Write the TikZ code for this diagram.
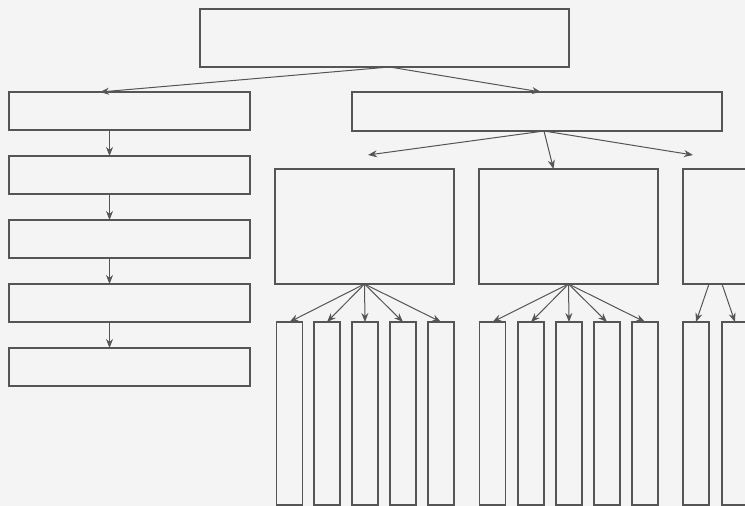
\documentclass[tikz,border=0pt]{standalone}
\usetikzlibrary{arrows.meta,calc}
\definecolor{paper}{HTML}{F4F4F4}
\definecolor{ink}{HTML}{555555}
\tikzset{
  box/.style={draw=ink,line width=1.1pt,rectangle,inner sep=0pt,outer sep=0pt},
  arr/.style={draw=ink,line width=1pt,-{Stealth[length=9pt,width=7pt]}},
}
\begin{document}
\begin{tikzpicture}[x=1pt,y=-1pt]
  \fill[paper] (0,0) rectangle (745,506);
  \clip (0,0) rectangle (745,506);
  % oberer Kasten
  \node[box,minimum width=369,minimum height=58] (top) at (384.5,38) {};
  % linke Spalte
  \foreach \n/\y in {1/111,2/175,3/239,4/303,5/367}
    \node[box,minimum width=241,minimum height=38] (l\n) at (129.5,\y) {};
  \foreach \a/\b in {1/2,2/3,3/4,4/5}
    \draw[arr] ($(l\a.south)+(-20,0)$) -- ($(l\b.north)+(-20,0)$);
  % rechter Zweig
  \node[box,minimum width=370,minimum height=39] (r) at (537,111.5) {};
  \draw[arr] ($(top.south)+(5,0)$) -- ($(l1.north)+(-29.5,0)$);
  \draw[arr] ($(top.south)+(5,0)$) -- ($(r.north)+(4,0)$);
  % drei grosse Kaesten
  \foreach \n/\x in {a/364.5,b/568.5,c/772.5}
    \node[box,minimum width=179,minimum height=115] (\n) at (\x,226.5) {};
  \coordinate (ta) at ($(a.north)+(3.5,-14)$);
  \coordinate (tc) at ($(c.north)+(-79.5,-14)$);
  \draw[arr] ($(r.south)+(7,0)$) -- (ta);
  \draw[arr] ($(r.south)+(7,0)$) -- ($(b.north)+(-15,0)$);
  \draw[arr] ($(r.south)+(7,0)$) -- (tc);
  % schmale Kaesten
  \foreach \x [count=\i] in {289.5,327,365,403,441}
    \node[box,minimum width=26,minimum height=183] (a\i) at (\x,413.5) {};
  \foreach \x [count=\i] in {492.5,531,569,607,645}
    \node[box,minimum width=26,minimum height=183] (b\i) at (\x,413.5) {};
  \foreach \x [count=\i] in {696,735}
    \node[box,minimum width=26,minimum height=183] (c\i) at (\x,413.5) {};
  \foreach \i in {1,...,5}
  {
    \draw[arr] (a.south) -- (a\i.north);
    \draw[arr] (b.south) -- (b\i.north);
  }
  \draw[arr] ($(c.south west)+(26,0)$) -- (c1.north);
  \draw[arr] ($(c.south west)+(39,0)$) -- (c2.north);
\end{tikzpicture}
\end{document}
